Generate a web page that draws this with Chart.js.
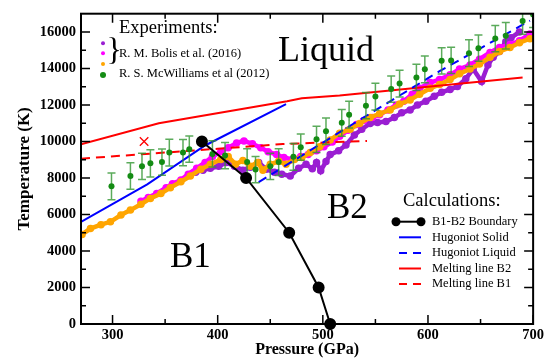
<!DOCTYPE html>
<html><head><meta charset="utf-8">
<script src="https://cdn.jsdelivr.net/npm/chart.js@4.4.1/dist/chart.umd.min.js"></script>
<style>html,body{margin:0;padding:0;background:#fff}canvas{display:block}</style>
</head><body>
<canvas id="c" width="547" height="362"></canvas>
<script>
// ---- axes / ticks ----
const xTickValues = [300, 400, 500, 600, 700];
const xMinorValues = [350, 450, 550, 650];
const yTickValues = [0, 2000, 4000, 6000, 8000, 10000, 12000, 14000, 16000];
const yMinorValues = [1000, 3000, 5000, 7000, 9000, 11000, 13000, 15000];

// ---- calculations ----
const boundaryP = [385, 427, 468, 496, 507];
const boundaryT = [10000, 8000, 5000, 2000, 0];
const hugoniotSolid = [[270, 5600], [333, 7650], [388, 9780], [465, 12050]];
const hugoniotLiquid = [[439, 7770], [529, 10970], [611, 13850], [697, 16620]];
const meltingB2 = [[270, 9850], [344, 11000], [466, 12200], [480, 12370], [516, 12520], [600, 13000], [690, 13510]];
const meltingB1 = [[270, 9060], [400, 9600], [462, 9860], [542, 10030]];
const redCross = [[330, 10000]];

// ---- experiments: Bolis et al. (2016) ----
const bolisViolet = [[379,8320],[386,8430],[393,8530],[401,8640],[408,8850],[416,8640],[424,8430],[431,8590],[439,8850],[446,8480],[454,8320],[461,8210],[469,8110],[477,8530],[484,8750],[490,8500],[494,8850],[498,8400],[503,8900],[507,9280],[515,9490],[522,9810],[530,10350],[537,10670],[545,10990],[552,11040],[560,11090],[568,11310],[575,11570],[583,11730],[590,12000],[598,12210],[606,12480],[613,12690],[621,12850],[628,13010],[636,13440],[643,13970],[651,13280],[657,14190],[662,14610],[668,14930],[674,15470],[679,15680],[687,16000]];
const bolisMagenta = [[327,6720],[334,6930],[342,7150],[351,7470],[357,7680],[365,7890],[372,8210],[380,8530],[388,8850],[395,9170],[403,9440],[410,9650],[418,9920],[425,10030],[433,9870],[441,9650],[448,9440],[456,9280],[463,9120],[471,9010],[479,9170],[486,9280],[494,9490],[501,9710],[509,9970],[516,10290],[524,10610],[532,10930],[539,11150],[547,11310],[554,11470],[562,11730],[570,12000],[577,12210],[585,12590],[592,12910],[602,13230],[611,13390],[621,13650],[630,13970],[640,14190],[649,14510],[659,14880],[668,15150],[678,15310],[687,15520],[697,15890]];
const bolisOrange = [[271,4910],[279,5230],[289,5440],[298,5600],[308,5970],[317,6240],[327,6560],[336,6880],[346,7150],[355,7470],[365,7790],[374,8110],[384,8480],[393,8750],[403,9010],[410,9170],[417,8750],[424,8960],[431,8640],[438,8850],[443,8430],[450,8750],[458,8910],[465,8750],[473,9010],[480,9120],[488,9390],[497,9710],[507,10080],[516,10450],[526,10670],[535,10990],[545,11310],[554,11520],[564,11730],[573,12050],[583,12270],[592,12590],[602,12910],[611,13120],[621,13390],[630,13710],[640,13970],[649,14240],[659,14610],[668,14930],[678,15150],[687,15410],[697,15630]];

// ---- experiments: McWilliams et al (2012) ----
const mcwP = [299,317,328,336,347,354,367,373,395,407,428,436,450,458,472,479,494,503,518,525,541,550,565,573,589,597,613,622,639,648,664,674,690,700];
const mcwT = [7540,8110,8640,8800,8870,9390,9390,9580,9320,9230,8870,8460,8640,8870,9160,9690,10120,10560,11020,11470,11960,12460,12870,13170,13510,13950,14420,14440,14840,15110,15640,15790,16600,16960];
const mcwErr = [730,730,720,750,720,730,720,720,720,720,730,720,720,730,730,720,720,720,730,730,720,730,720,730,720,730,720,720,730,720,720,730,720,720];

const SERIF = '"Liberation Serif", "Times New Roman", serif';
const pts = arr => arr.map(([x, y]) => ({x, y}));

const errorBars = {
  id: 'errorBars',
  beforeDatasetDraw(chart, args) {
    if (chart.data.datasets[args.index].label !== 'McWilliams') return;
    const {ctx, scales: {x, y}, chartArea: a} = chart;
    ctx.save();
    ctx.beginPath(); ctx.rect(a.left, a.top, a.right - a.left, a.bottom - a.top); ctx.clip();
    ctx.strokeStyle = 'rgba(50,150,50,0.8)';
    ctx.lineWidth = 1.5;
    mcwP.forEach((p, i) => {
      const px = x.getPixelForValue(p);
      const y1 = y.getPixelForValue(mcwT[i] + mcwErr[i]);
      const y2 = y.getPixelForValue(mcwT[i] - mcwErr[i]);
      ctx.beginPath();
      ctx.moveTo(px, y1); ctx.lineTo(px, y2);
      ctx.moveTo(px - 4, y1); ctx.lineTo(px + 4, y1);
      ctx.moveTo(px - 4, y2); ctx.lineTo(px + 4, y2);
      ctx.stroke();
    });
    ctx.restore();
  }
};

const frame = {
  id: 'frame',
  afterDraw(chart) {
    const {ctx, scales: {x, y}, chartArea: a} = chart;
    ctx.save();
    ctx.strokeStyle = '#000';
    ctx.lineWidth = 1.5;
    const tick = (v, len, horiz) => {
      ctx.beginPath();
      if (horiz) {
        const px = x.getPixelForValue(v);
        ctx.moveTo(px, a.bottom); ctx.lineTo(px, a.bottom - len);
        ctx.moveTo(px, a.top); ctx.lineTo(px, a.top + len);
      } else {
        const py = y.getPixelForValue(v);
        ctx.moveTo(a.left, py); ctx.lineTo(a.left + len, py);
        ctx.moveTo(a.right, py); ctx.lineTo(a.right - len, py);
      }
      ctx.stroke();
    };
    xTickValues.forEach(v => tick(v, 9, true));
    xMinorValues.forEach(v => tick(v, 5, true));
    yTickValues.forEach(v => tick(v, 9, false));
    yMinorValues.forEach(v => tick(v, 5, false));
    ctx.lineWidth = 2;
    ctx.strokeRect(a.left, a.top, a.right - a.left, a.bottom - a.top);

    // annotations
    ctx.fillStyle = '#000';
    ctx.textBaseline = 'alphabetic';
    ctx.textAlign = 'left';
    ctx.font = '36px ' + SERIF;
    ctx.fillText('Liquid', 278, 61);
    ctx.font = '35px ' + SERIF;
    ctx.fillText('B2', 327, 218);
    ctx.fillText('B1', 170, 267);

    // experiments legend
    ctx.font = '18.5px ' + SERIF;
    ctx.fillText('Experiments:', 119, 33);
    const dot = (cx, cy, r, c) => { ctx.fillStyle = c; ctx.beginPath(); ctx.arc(cx, cy, r, 0, Math.PI * 2); ctx.fill(); };
    dot(103, 43.3, 2, '#9a1ed2');
    dot(103, 53.3, 2, '#ff00ff');
    dot(103, 64, 2, '#ffa500');
    dot(103, 75, 3, '#148c14');
    ctx.fillStyle = '#000';
    ctx.textBaseline = 'middle';
    ctx.font = '32px ' + SERIF;
    ctx.fillText('}', 106.5, 52);
    ctx.font = '12.5px ' + SERIF;
    ctx.fillText('R. M. Bolis et al. (2016)', 119, 53.3);
    ctx.fillText('R. S. McWilliams et al (2012)', 119, 73.3);

    // calculations legend
    ctx.textBaseline = 'alphabetic';
    ctx.font = '18.5px ' + SERIF;
    ctx.fillText('Calculations:', 403, 206);
    const rows = [
      {t: 'B1-B2 Boundary', c: '#000', d: [], m: true},
      {t: 'Hugoniot Solid', c: '#0000ff', d: []},
      {t: 'Hugoniot Liquid', c: '#0000ff', d: [8, 6]},
      {t: 'Melting line B2', c: '#ff0000', d: []},
      {t: 'Melting line B1', c: '#ff0000', d: [8, 6]}
    ];
    rows.forEach((r, i) => {
      const yy = 221.7 + i * 15.6;
      ctx.strokeStyle = r.c; ctx.lineWidth = 2; ctx.setLineDash(r.d);
      ctx.beginPath();
      if (r.m) { ctx.moveTo(396, yy); ctx.lineTo(421, yy); }
      else { ctx.moveTo(399, yy); ctx.lineTo(421, yy); }
      ctx.stroke();
      ctx.setLineDash([]);
      if (r.m) { dot(396, yy, 4.5, '#000'); dot(421, yy, 4.5, '#000'); }
      ctx.fillStyle = '#000';
      ctx.textBaseline = 'middle';
      ctx.font = '12.5px ' + SERIF;
      ctx.fillText(r.t, 432, yy);
    });
    ctx.restore();
  }
};

new Chart(document.getElementById('c'), {
  type: 'scatter',
  data: {
    datasets: [
      {label: 'Boundary', data: boundaryP.map((p, i) => ({x: p, y: boundaryT[i]})), showLine: true,
       borderColor: '#000', backgroundColor: '#000', borderWidth: 2, pointRadius: 5, clip: false, order: 0},
      {label: 'McWilliams', data: mcwP.map((p, i) => ({x: p, y: mcwT[i]})), showLine: false,
       borderColor: '#148c14', backgroundColor: '#148c14', pointRadius: 3, borderWidth: 0, order: 1},
      {label: 'Cross', data: pts(redCross), pointStyle: 'crossRot', pointRadius: 6, borderColor: '#ff0000', borderWidth: 1.3, order: 2},
      {label: 'Hugoniot Solid', data: pts(hugoniotSolid), showLine: true, borderColor: '#0000ff', borderWidth: 2, pointRadius: 0, order: 3},
      {label: 'Hugoniot Liquid', data: pts(hugoniotLiquid), showLine: true, borderColor: '#0000ff', borderWidth: 2, borderDash: [9, 6], pointRadius: 0, order: 4},
      {label: 'Melting B2', data: pts(meltingB2), showLine: true, borderColor: '#ff0000', borderWidth: 2, pointRadius: 0, order: 5},
      {label: 'Melting B1', data: pts(meltingB1), showLine: true, borderColor: '#ff0000', borderWidth: 2, borderDash: [9, 6], pointRadius: 0, order: 6},
      {label: 'Bolis orange', data: pts(bolisOrange), showLine: true, borderColor: '#ffa500', backgroundColor: '#ffa500', borderWidth: 4.5, pointRadius: 1.5, order: 7},
      {label: 'Bolis magenta', data: pts(bolisMagenta), showLine: true, borderColor: '#ff00ff', backgroundColor: '#ff00ff', borderWidth: 4.5, pointRadius: 1.5, order: 8},
      {label: 'Bolis violet', data: pts(bolisViolet), showLine: true, borderColor: '#9a1ed2', backgroundColor: '#9a1ed2', borderWidth: 4.5, pointRadius: 1.5, order: 9}
    ]
  },
  options: {
    responsive: false,
    devicePixelRatio: 1,
    animation: false,
    layout: {padding: {top: 6, right: 13, left: 0, bottom: 0}},
    plugins: {legend: {display: false}, tooltip: {enabled: false}},
    elements: {line: {tension: 0}, point: {borderWidth: 0}},
    scales: {
      x: {
        type: 'linear', min: 270, max: 700,
        afterBuildTicks: s => { s.ticks = xTickValues.map(v => ({value: v})); },
        afterFit: s => { s.height = 38; },
        grid: {display: false, drawTicks: false}, border: {display: false},
        ticks: {padding: 3, color: '#000', maxRotation: 0, autoSkip: false, callback: v => String(v), font: {family: SERIF, size: 14.5, weight: 'bold'}},
        title: {display: true, text: 'Pressure (GPa)', color: '#000', font: {family: SERIF, size: 16, weight: 'bold'}, padding: {top: 0, bottom: 3}}
      },
      y: {
        type: 'linear', min: 0, max: 17000,
        afterBuildTicks: s => { s.ticks = yTickValues.map(v => ({value: v})); },
        afterFit: s => { s.width = 81; },
        grid: {display: false, drawTicks: false}, border: {display: false},
        ticks: {padding: 5, color: '#000', autoSkip: false, callback: v => String(v), font: {family: SERIF, size: 14.5, weight: 'bold'}},
        title: {display: true, text: 'Temperature (K)', color: '#000', font: {family: SERIF, size: 17, weight: 'bold'}, padding: {top: 14, bottom: 0}}
      }
    }
  },
  plugins: [errorBars, frame]
});
</script>
</body></html>
